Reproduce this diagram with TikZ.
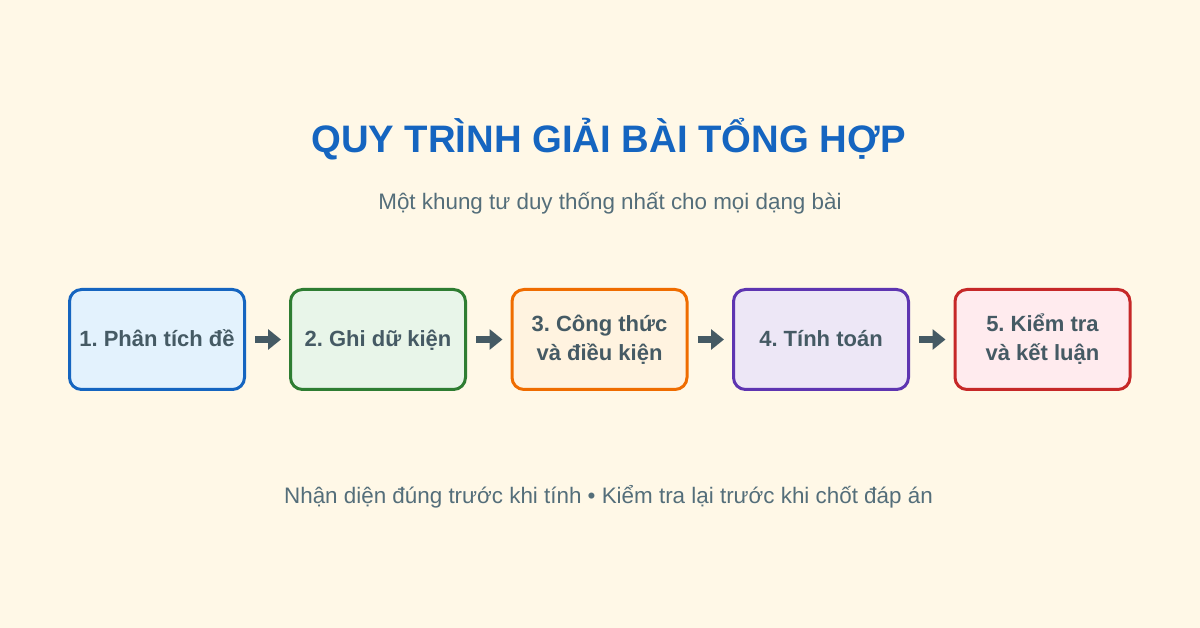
\documentclass[tikz,border=0pt]{standalone}
\usepackage{fontspec}
\setmainfont{Liberation Sans}
\usetikzlibrary{arrows.meta}
\frenchspacing
\definecolor{bgcream}{HTML}{FFF8E7}
\definecolor{titleblue}{HTML}{1565C0}
\definecolor{slatetext}{HTML}{455A64}
\definecolor{softtext}{HTML}{546E7A}
\definecolor{blueline}{HTML}{1565C0}
\definecolor{bluefill}{HTML}{E3F2FD}
\definecolor{greenline}{HTML}{2E7D32}
\definecolor{greenfill}{HTML}{E8F5E9}
\definecolor{orangeline}{HTML}{EF6C00}
\definecolor{orangefill}{HTML}{FFF3E0}
\definecolor{purpleline}{HTML}{5E35B1}
\definecolor{purplefill}{HTML}{EDE7F6}
\definecolor{redline}{HTML}{C62828}
\definecolor{redfill}{HTML}{FFEBEE}
\tikzset{
  stepbox/.style={draw, line width=3pt, rounded corners=12pt, minimum width=175pt, minimum height=100pt, text=slatetext, align=center, font=\fontsize{22}{29}\selectfont\bfseries},
  oneline/.style={text height=18pt, text depth=3pt},
  flowarrow/.style={draw=slatetext, line width=7pt, -{Triangle[length=13pt,width=20pt]}, shorten <=9pt, shorten >=8pt}
}

\begin{document}
\begin{tikzpicture}[x=1pt, y=-1pt]
			%%%%% START %%%%%
			
			\fill[bgcream] (0, 0) rectangle (1200, 628);
			
			\node[anchor=base, text=titleblue, font=\fontsize{38.3}{44}\selectfont\bfseries] (title) at (608.5, 153) {QUY TRÌNH GIẢI BÀI TỔNG HỢP};
			\node[anchor=base, text=softtext, font=\fontsize{22.4}{26}\selectfont] (subtitle) at (610, 210) {Một khung tư duy thống nhất cho mọi dạng bài};
			
			\node[stepbox, oneline, draw=blueline, fill=bluefill] (s1) at (157, 339.5) {1. Phân tích đề};
			\node[stepbox, oneline, draw=greenline, fill=greenfill] (s2) at (378, 339.5) {2. Ghi dữ kiện};
			\node[stepbox, draw=orangeline, fill=orangefill] (s3) at (599.5, 339.5) {3. Công thức\\và điều kiện};
			\node[stepbox, oneline, draw=purpleline, fill=purplefill] (s4) at (821, 339.5) {4. Tính toán};
			\node[stepbox, draw=redline, fill=redfill] (s5) at (1042.5, 339.5) {5. Kiểm tra\\và kết luận};
			
			\draw[flowarrow] (s1) -- (s2);
			\draw[flowarrow] (s2) -- (s3);
			\draw[flowarrow] (s3) -- (s4);
			\draw[flowarrow] (s4) -- (s5);
			
			\node[anchor=base, text=softtext, font=\fontsize{22.4}{26}\selectfont] (footer) at (608.5, 503) {Nhận diện đúng trước khi tính • Kiểm tra lại trước khi chốt đáp án};
			
			%%%%% END %%%%%
		\end{tikzpicture}
\end{document}
